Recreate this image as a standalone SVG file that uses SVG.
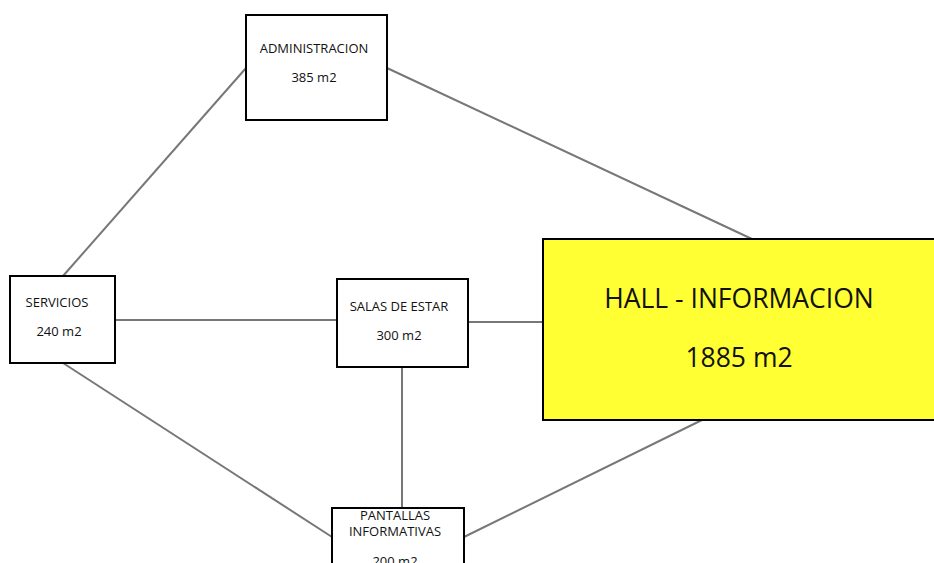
<svg xmlns="http://www.w3.org/2000/svg" width="934" height="563" viewBox="0 0 934 563">
<style>
.box{fill:#fff;stroke:#000;stroke-width:2}
.hall{fill:#ffff33;stroke:#000;stroke-width:2}
.t{font-family:"Open Sans","Noto Sans","Liberation Sans",sans-serif;font-size:13px;fill:#111;text-anchor:middle}
.big{font-family:"Open Sans","Noto Sans","Liberation Sans",sans-serif;font-size:26.5px;fill:#111;text-anchor:middle}
.c line{stroke:#777;stroke-width:2}
</style>
<rect width="934" height="563" fill="#fff"/>
<g class="c" id="connectors">
<line x1="246" y1="68" x2="63" y2="276"/>
<line x1="387" y1="68" x2="752" y2="239"/>
<line x1="115" y1="320" x2="337" y2="320"/>
<line x1="468" y1="322" x2="543" y2="322"/>
<line x1="63" y1="363" x2="332" y2="537"/>
<line x1="402" y1="367" x2="402" y2="508"/>
<line x1="702" y1="420" x2="464" y2="537"/>
</g>
<g id="admin">
<rect class="box" x="246" y="15" width="141" height="105"/>
<text class="t" x="314" y="53">ADMINISTRACION</text>
<text class="t" x="314" y="82">385 m2</text>
</g>
<g id="servicios">
<rect class="box" x="10" y="276" width="105" height="87"/>
<text class="t" x="57" y="307">SERVICIOS</text>
<text class="t" x="59" y="336">240 m2</text>
</g>
<g id="salas">
<rect class="box" x="337" y="279" width="131" height="88"/>
<text class="t" x="399" y="311">SALAS DE ESTAR</text>
<text class="t" x="399" y="340">300 m2</text>
</g>
<g id="pantallas">
<rect class="box" x="332" y="508" width="132" height="70"/>
<text class="t" x="395" y="520">PANTALLAS</text>
<text class="t" x="395" y="536">INFORMATIVAS</text>
<text class="t" x="395" y="566">200 m2</text>
</g>
<g id="hall">
<rect class="hall" x="543" y="239" width="400" height="181"/>
<text class="big" x="739" y="308">HALL - INFORMACION</text>
<text class="big" x="739" y="367">1885 m2</text>
</g>
</svg>
